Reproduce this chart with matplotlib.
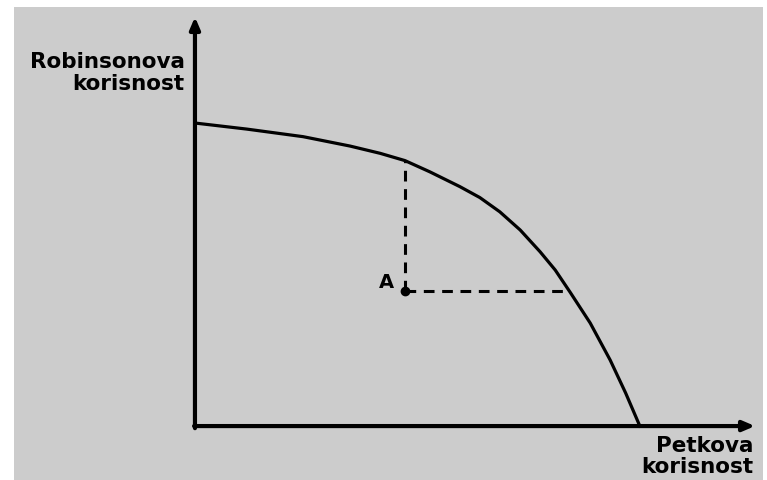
import matplotlib.pyplot as plt
from matplotlib.patches import Rectangle

# utility possibility frontier (Petko on x, Robinson on y)
petko = [0.0, 1.17, 2.44, 3.50, 4.18, 4.74, 5.30, 5.98, 6.43, 6.88,
         7.34, 7.79, 8.13, 8.47, 8.92, 9.37, 9.72, 10.04]
robinson = [10.0, 9.80, 9.55, 9.24, 9.00, 8.76, 8.39, 7.90, 7.54, 7.07,
            6.47, 5.75, 5.15, 4.41, 3.40, 2.18, 1.09, 0.0]

# point A and where its dashed guides meet the frontier
point_a = (4.74, 4.46)
top_of_a = 8.76
right_of_a = 8.45

y_label = 'Robinsonova\nkorisnost'
x_label = 'Petkova\nkorisnost'

plt.rcParams['font.family'] = ['DejaVu Sans']

fig = plt.figure(figsize=(7.67, 4.8), dpi=100)
fig.patch.set_facecolor('white')
fig.patches.append(Rectangle((14 / 767, 0), (763 - 14) / 767, 473 / 480,
                             transform=fig.transFigure, facecolor='#cccccc',
                             edgecolor='none', zorder=-10))

ax = fig.add_axes([0, 0, 1, 1])
ax.set_xlim(-4.40, 12.91)
ax.set_ylim(-1.78, 14.06)
ax.axis('off')

# axes with arrows
arrow = dict(arrowstyle='-|>,head_length=0.7,head_width=0.3', color='black',
             lw=3, shrinkA=0, shrinkB=0)
ax.annotate('', xy=(0, 13.5), xytext=(0, -0.07), arrowprops=arrow)
ax.annotate('', xy=(12.64, 0), xytext=(-0.02, 0), arrowprops=arrow)

# frontier
ax.plot(petko, robinson, color='black', lw=2.3, solid_joinstyle='round')

# dashed guides
ax.plot([point_a[0], point_a[0]], [point_a[1], top_of_a], color='black',
        lw=2.2, linestyle=(0, (3.5, 2.5)))
ax.plot([point_a[0], right_of_a], [point_a[1], point_a[1]], color='black',
        lw=2.2, linestyle=(0, (3.5, 2.5)))
ax.plot(*point_a, 'o', color='black', markersize=6)
ax.text(point_a[0] - 0.25, point_a[1] - 0.05, 'A', fontsize=14, fontweight='bold',
        ha='right', va='bottom')

ax.text(-0.23, 11.65, y_label, fontsize=15.5, fontweight='bold', ha='right',
        va='center', linespacing=1.1)
ax.text(12.6, -1.0, x_label, fontsize=15.5, fontweight='bold', ha='right',
        va='center', linespacing=1.1)

plt.savefig('out.png', dpi=100)
